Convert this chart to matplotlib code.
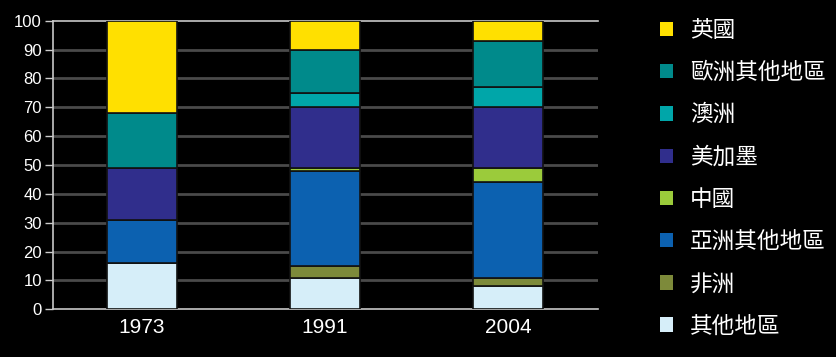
import numpy as np
import matplotlib.pyplot as plt
from matplotlib.patches import Patch

years = ['1973', '1991', '2004']
# stacked from bottom to top
regions = ['其他地區', '非洲', '亞洲其他地區', '中國', '美加墨', '澳洲', '歐洲其他地區', '英國']
other = [16, 11, 8]
africa = [0, 4, 3]
asia_other = [15, 33, 33]
china = [0, 1, 5]
americas = [18, 21, 21]
australia = [0, 5, 7]
europe_other = [19, 15, 16]
uk = [32, 10, 7]
series = [other, africa, asia_other, china, americas, australia, europe_other, uk]
colors = ['#d6eef9', '#7d8a3a', '#0c61b0', '#9bcb3b', '#302e8c', '#00a6a9', '#008a8b', '#ffe000']

plt.rcParams['font.family'] = ['Liberation Sans', 'Noto Sans CJK TC']

fig = plt.figure(figsize=(8.36, 3.57), dpi=100, facecolor='black')
ax = fig.add_axes([0.0634, 0.1336, 0.6516, 0.8084])
ax.set_facecolor('black')

x = np.arange(len(years))
bottom = np.zeros(len(years))
handles = []
for vals, col, name in zip(series, colors, regions):
    ax.bar(x, vals, 0.38, bottom=bottom, color=col, edgecolor='#111111',
           linewidth=1.2, zorder=3)
    bottom += np.array(vals)
    handles.append(Patch(facecolor=col, edgecolor='none', label=name))

ax.set_xlim(-0.486, 2.49)
ax.set_ylim(0, 100)
ax.set_yticks(np.arange(0, 101, 10))
ax.set_xticks(x)
ax.set_xticklabels(years, fontsize=15, color='white')
ax.tick_params(axis='x', length=0, pad=6)
ax.tick_params(axis='y', colors='#cccccc', labelcolor='white', labelsize=12,
               length=6, width=1, pad=2)
for yv in range(10, 100, 10):
    ax.axhline(yv, color='#4a4a4a', linewidth=2, zorder=1)
for side in ['left', 'bottom', 'top']:
    ax.spines[side].set_color('#c8c8c8')
    ax.spines[side].set_linewidth(1.2)
ax.spines['right'].set_visible(False)

leg = fig.legend(handles=handles[::-1], loc='upper left',
                 bbox_to_anchor=(0.765, 1.004), frameon=False,
                 prop={'family': 'Noto Sans CJK TC', 'size': 16.3, 'weight': 'medium'},
                 labelcolor='white', handlelength=0.6, handleheight=0.6,
                 handletextpad=0.72, labelspacing=0.85)

fig.savefig('out.png', dpi=100, facecolor='black')
